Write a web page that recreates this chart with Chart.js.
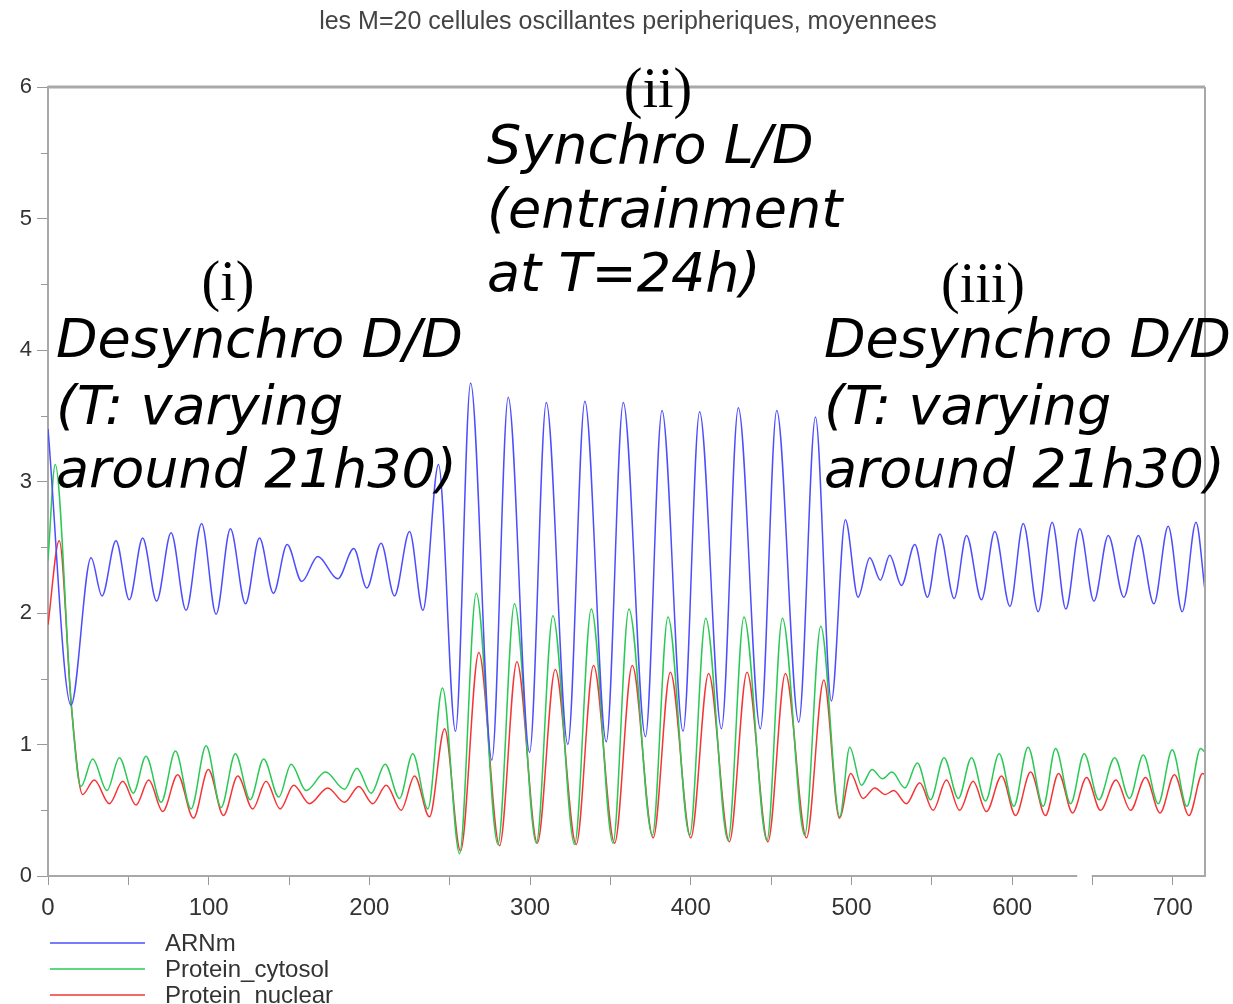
<!DOCTYPE html>
<html>
<head>
<meta charset="utf-8">
<script src="https://cdn.jsdelivr.net/npm/chart.js@4.4.1/dist/chart.umd.min.js"></script>
<style>
  html, body { margin: 0; padding: 0; background: #fff; }
  #wrap { width: 1233px; height: 1004px; position: relative; }
</style>
</head>
<body>
<div id="wrap"><canvas id="chart" width="1233" height="1004"></canvas></div>
<script>
// series (peaks and troughs), x in hours
const arnmX = [0, 14.3, 26.8, 33.6, 42.3, 50.6, 58.9, 67.6, 76.6, 85.9,
  95.6, 104.6, 113.5, 122.9, 131.6, 140.3, 148.8, 157.9, 167.9, 180.3,
  190.3, 198.4, 207.3, 215.6, 225.0, 233.3, 243.0, 253.6, 263.0, 276.2,
  286.4, 299.7, 310.1, 323.5, 334.1, 347.4, 358.0, 371.8, 382.1, 395.2,
  405.5, 419.1, 429.6, 443.3, 453.5, 467.2, 477.6, 487.5, 496.2, 504.1,
  511.4, 518.0, 523.8, 531.1, 539.4, 547.3, 555.0, 563.9, 571.6, 580.9,
  589.2, 598.6, 606.9, 616.2, 624.9, 633.4, 642.1, 650.9, 659.8, 669.5,
  678.5, 688.2, 697.1, 705.8, 714.4, 720];
const arnmY = [3.40, 1.30, 2.42, 2.13, 2.55, 2.10, 2.57, 2.09, 2.61, 2.02,
  2.68, 1.99, 2.64, 2.07, 2.57, 2.15, 2.52, 2.24, 2.43, 2.26,
  2.49, 2.19, 2.53, 2.13, 2.62, 2.02, 3.13, 1.10, 3.75, 0.88,
  3.64, 0.94, 3.60, 1.00, 3.61, 1.02, 3.60, 1.06, 3.54, 1.10,
  3.53, 1.12, 3.56, 1.12, 3.54, 1.17, 3.49, 1.33, 2.71, 2.12,
  2.42, 2.25, 2.44, 2.21, 2.52, 2.12, 2.60, 2.11, 2.59, 2.10,
  2.62, 2.05, 2.68, 2.01, 2.69, 2.03, 2.64, 2.09, 2.59, 2.12,
  2.59, 2.07, 2.66, 2.01, 2.69, 2.17];

const cytoX = [0, 4.5, 14.5, 20.5, 27.8, 36.7, 44.4, 53.1, 61.0, 70.4,
  79.3, 89.0, 98.4, 107.7, 116.6, 125.8, 134.2, 143.6, 151.3, 160.6,
  172.7, 184.5, 192.2, 201.1, 209.8, 218.7, 227.0, 236.4, 245.5, 256.1,
  266.5, 280.0, 290.3, 303.9, 314.2, 327.7, 338.1, 351.6, 361.5, 376.1,
  385.8, 399.3, 409.3, 423.2, 433.1, 447.4, 457.0, 470.9, 480.9, 492.7,
  498.9, 506.2, 512.8, 519.3, 525.2, 533.2, 541.0, 549.2, 557.6, 566.5,
  574.7, 583.4, 591.9, 601.0, 609.9, 619.3, 627.0, 636.4, 644.8, 653.9,
  663.8, 673.0, 681.6, 690.9, 699.6, 708.7, 717.3, 720];
const cytoY = [2.4, 3.13, 1.30, 0.68, 0.89, 0.65, 0.90, 0.63, 0.91, 0.56,
  0.95, 0.51, 0.99, 0.52, 0.93, 0.58, 0.89, 0.60, 0.85, 0.65,
  0.79, 0.66, 0.82, 0.63, 0.85, 0.59, 0.93, 0.51, 1.43, 0.17,
  2.15, 0.24, 2.07, 0.25, 1.98, 0.24, 2.03, 0.25, 2.03, 0.31,
  1.97, 0.31, 1.96, 0.27, 1.97, 0.27, 1.96, 0.31, 1.90, 0.45,
  0.98, 0.69, 0.81, 0.74, 0.79, 0.67, 0.86, 0.58, 0.90, 0.59,
  0.90, 0.57, 0.93, 0.53, 0.98, 0.53, 0.97, 0.55, 0.93, 0.58,
  0.90, 0.59, 0.92, 0.55, 0.96, 0.53, 0.97, 0.94];

const nuclX = [0, 7.0, 14.5, 21.5, 28.8, 38.2, 46.5, 54.8, 62.7, 71.4,
  80.7, 90.5, 99.8, 109.2, 118.1, 127.4, 135.7, 144.5, 152.9, 162.7,
  174.1, 184.5, 193.4, 202.1, 210.5, 219.8, 228.1, 237.4, 246.8, 256.7,
  268.1, 281.0, 291.8, 304.5, 315.7, 328.7, 339.5, 352.6, 363.6, 376.6,
  387.3, 400.0, 411.1, 424.0, 435.0, 448.0, 458.9, 472.0, 482.8, 492.5,
  499.5, 507.2, 514.5, 521.0, 526.3, 534.2, 542.5, 550.8, 559.1, 567.3,
  575.7, 584.0, 593.4, 602.1, 611.5, 620.7, 628.9, 637.6, 646.3, 655.0,
  664.6, 673.7, 683.0, 692.0, 701.0, 710.0, 718.5, 720];
const nuclY = [1.91, 2.55, 1.30, 0.62, 0.73, 0.55, 0.72, 0.54, 0.73, 0.49,
  0.77, 0.44, 0.81, 0.46, 0.76, 0.51, 0.72, 0.51, 0.69, 0.55,
  0.67, 0.56, 0.68, 0.55, 0.69, 0.50, 0.76, 0.45, 1.12, 0.19,
  1.70, 0.23, 1.63, 0.25, 1.57, 0.24, 1.60, 0.25, 1.60, 0.29,
  1.55, 0.29, 1.54, 0.26, 1.55, 0.26, 1.54, 0.29, 1.49, 0.44,
  0.78, 0.59, 0.67, 0.62, 0.65, 0.55, 0.71, 0.50, 0.73, 0.50,
  0.72, 0.49, 0.76, 0.46, 0.79, 0.46, 0.78, 0.48, 0.75, 0.50,
  0.73, 0.50, 0.75, 0.48, 0.77, 0.46, 0.78, 0.77];

const seriesNames = ['ARNm', 'Protein_cytosol', 'Protein_nuclear'];
const seriesColors = ['#4d4dff', '#2ac955', '#f53535'];
const titleText = 'les M=20 cellules oscillantes peripheriques, moyennees';
const yMinorTicks = [0.5, 1.5, 2.5, 3.5, 4.5, 5.5];

// annotation blocks: roman numeral + italic lines
const notes = [
  { num: '(i)', numX: 228, numY: 300, x: 56, ys: [357, 424, 487],
    lines: ['Desynchro D/D', '(T: varying', 'around 21h30)'] },
  { num: '(ii)', numX: 658, numY: 107, x: 487, ys: [163, 227, 291],
    lines: ['Synchro L/D', '(entrainment', 'at T=24h)'] },
  { num: '(iii)', numX: 983, numY: 302, x: 824, ys: [357, 424, 487],
    lines: ['Desynchro D/D', '(T: varying', 'around 21h30)'] }
];

function toPoints(xs, ys) {
  return xs.map((x, i) => ({ x: x, y: ys[i] }));
}

const extras = {
  id: 'extras',
  beforeDraw(chart) {
    const ctx = chart.ctx;
    ctx.save();
    ctx.fillStyle = '#fff';
    ctx.fillRect(0, 0, chart.width, chart.height);
    ctx.restore();
  },
  afterDraw(chart) {
    const ctx = chart.ctx;
    const a = chart.chartArea;
    const xs = chart.scales.x;
    const ys = chart.scales.y;
    ctx.save();
    // frame top + right
    ctx.strokeStyle = '#a8a8a8';
    ctx.lineWidth = 3;
    ctx.beginPath();
    ctx.moveTo(a.left, a.top);
    ctx.lineTo(a.right, a.top);
    ctx.stroke();
    ctx.lineWidth = 2;
    ctx.beginPath();
    ctx.moveTo(a.right, a.top);
    ctx.lineTo(a.right, a.bottom);
    ctx.stroke();
    // shorter minor ticks on y
    ctx.strokeStyle = '#999';
    ctx.lineWidth = 1;
    yMinorTicks.forEach(v => {
      const p = Math.round(ys.getPixelForValue(v)) + 0.5;
      ctx.beginPath();
      ctx.moveTo(a.left - 7, p);
      ctx.lineTo(a.left, p);
      ctx.stroke();
    });
    // small break in the bottom axis line
    ctx.fillStyle = '#fff';
    const g0 = xs.getPixelForValue(640.5), g1 = xs.getPixelForValue(649.5);
    ctx.fillRect(g0, a.bottom - 2, g1 - g0, 4);

    // title
    ctx.fillStyle = '#444';
    ctx.font = '25px "Liberation Sans", Arial, sans-serif';
    ctx.textAlign = 'center';
    ctx.textBaseline = 'alphabetic';
    ctx.fillText(titleText, 628, 29);

    // annotations
    ctx.fillStyle = '#000';
    notes.forEach(n => {
      ctx.font = '56px "Liberation Serif", "Times New Roman", serif';
      ctx.textAlign = 'center';
      ctx.fillText(n.num, n.numX, n.numY);
      ctx.font = 'italic 54px "DejaVu Sans", sans-serif';
      ctx.textAlign = 'left';
      n.lines.forEach((t, i) => ctx.fillText(t, n.x, n.ys[i]));
    });

    // legend
    ctx.font = '24px "Liberation Sans", Arial, sans-serif';
    ctx.textBaseline = 'middle';
    ctx.textAlign = 'left';
    seriesNames.forEach((name, i) => {
      const y = 943 + i * 26;
      ctx.strokeStyle = seriesColors[i];
      ctx.globalAlpha = 0.75;
      ctx.lineWidth = 2;
      ctx.beginPath();
      ctx.moveTo(50, y);
      ctx.lineTo(145, y);
      ctx.stroke();
      ctx.globalAlpha = 1;
      ctx.fillStyle = '#333';
      ctx.fillText(name, 165, y + 1);
    });
    ctx.restore();
  }
};

new Chart(document.getElementById('chart'), {
  type: 'line',
  data: {
    datasets: [
      { label: seriesNames[0], data: toPoints(arnmX, arnmY) },
      { label: seriesNames[1], data: toPoints(cytoX, cytoY) },
      { label: seriesNames[2], data: toPoints(nuclX, nuclY) }
    ].map((d, i) => Object.assign(d, {
      borderColor: seriesColors[i],
      borderWidth: 1.5,
      pointRadius: 0,
      fill: false,
      cubicInterpolationMode: 'monotone'
    }))
  },
  options: {
    responsive: false,
    animation: false,
    layout: { padding: { top: 87, right: 28, left: 0, bottom: 0 } },
    plugins: {
      legend: { display: false },
      title: { display: false },
      tooltip: { enabled: false }
    },
    scales: {
      x: {
        type: 'linear',
        min: 0,
        max: 720,
        afterFit(s) { s.height = 128; },
        border: { color: '#a8a8a8', width: 2 },
        grid: { drawOnChartArea: false, tickLength: 9, color: '#999' },
        ticks: {
          stepSize: 50,
          includeBounds: false,
          maxRotation: 0,
          autoSkip: false,
          padding: 9,
          color: '#333',
          font: { family: '"Liberation Sans", Arial, sans-serif', size: 24 },
          callback: v => (v % 100 === 0 ? String(v) : '')
        }
      },
      y: {
        min: 0,
        max: 6,
        afterFit(s) { s.width = 48; },
        border: { color: '#a8a8a8', width: 2 },
        grid: {
          drawOnChartArea: false,
          tickLength: 11,
          color: c => (Number.isInteger(c.tick.value) ? '#999' : 'rgba(0,0,0,0)')
        },
        ticks: {
          stepSize: 0.5,
          includeBounds: false,
          autoSkip: false,
          padding: 5,
          color: '#333',
          font: { family: '"Liberation Sans", Arial, sans-serif', size: 22 },
          callback: v => (Number.isInteger(v) ? String(v) : '')
        }
      }
    }
  },
  plugins: [extras]
});
</script>
</body>
</html>
